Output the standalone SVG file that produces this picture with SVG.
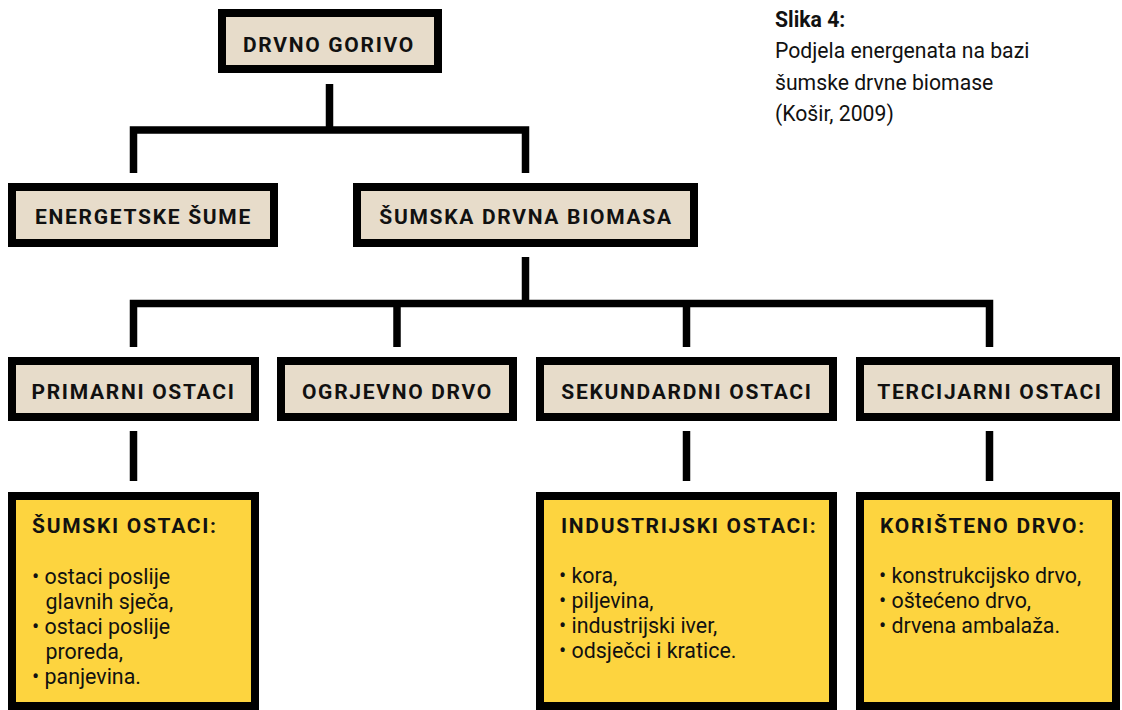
<svg xmlns="http://www.w3.org/2000/svg" width="1122" height="710" viewBox="0 0 1122 710">
<style>
.box{fill:#E7DCCA;stroke:#000;stroke-width:8}
.ybox{fill:#FDD43F;stroke:#000;stroke-width:8}
.lbl{font-family:Roboto,"Liberation Sans",sans-serif;font-weight:700;font-size:21px;letter-spacing:1.7px;fill:#111;text-anchor:middle}
.ttl{font-family:Roboto,"Liberation Sans",sans-serif;font-weight:700;font-size:21px;letter-spacing:1.7px;fill:#111}
.txt{font-family:Roboto,"Liberation Sans",sans-serif;font-size:21.4px;fill:#111}
.cap{font-family:Roboto,"Liberation Sans",sans-serif;font-size:21.2px;fill:#111}
.con{fill:none;stroke:#000;stroke-width:7.5;stroke-linejoin:miter}
</style>
<rect width="1122" height="710" fill="#fff"/>
<g id="connectors">
<path class="con" d="M329.5 84V130"/>
<path class="con" d="M133.5 173V130H525.5V173"/>
<path class="con" d="M525.5 257V303.5"/>
<path class="con" d="M133.5 347V303.5H989.5V347"/>
<path class="con" d="M397 303.5V347"/>
<path class="con" d="M686.5 303.5V347"/>
<path class="con" d="M133.5 431V481"/>
<path class="con" d="M686.5 431V481"/>
<path class="con" d="M989.5 431V481"/>
</g>
<g id="drvno-gorivo"><rect class="box" x="222" y="13" width="216" height="56"/><text class="lbl" x="329" y="51.5">DRVNO GORIVO</text></g>
<g id="energetske-sume"><rect class="box" x="12" y="187" width="262" height="56"/><text class="lbl" x="143.5" y="224">ENERGETSKE ŠUME</text></g>
<g id="sumska-drvna-biomasa"><rect class="box" x="357" y="187" width="337" height="56"/><text class="lbl" x="526" y="224">ŠUMSKA DRVNA BIOMASA</text></g>
<g id="primarni-ostaci"><rect class="box" x="12" y="361" width="243" height="56"/><text class="lbl" x="133.5" y="398.5">PRIMARNI OSTACI</text></g>
<g id="ogrjevno-drvo"><rect class="box" x="281" y="361" width="232" height="56"/><text class="lbl" x="397.5" y="398.5">OGRJEVNO DRVO</text></g>
<g id="sekundardni-ostaci"><rect class="box" x="540" y="361" width="293" height="56"/><text class="lbl" x="687" y="398.5">SEKUNDARDNI OSTACI</text></g>
<g id="tercijarni-ostaci"><rect class="box" x="860" y="361" width="256" height="56"/><text class="lbl" x="990" y="398.5">TERCIJARNI OSTACI</text></g>
<g id="sumski-ostaci"><rect class="ybox" x="12" y="496" width="243" height="210"/>
<text class="ttl" x="32" y="533">ŠUMSKI OSTACI:</text>
<text class="txt"><tspan x="32" y="584">• ostaci poslije</tspan><tspan x="45.5" y="609">glavnih sječa,</tspan><tspan x="32" y="634">• ostaci poslije</tspan><tspan x="45.5" y="659">proreda,</tspan><tspan x="32" y="684">• panjevina.</tspan></text></g>
<g id="industrijski-ostaci"><rect class="ybox" x="540" y="496" width="293" height="210"/>
<text class="ttl" x="561" y="533">INDUSTRIJSKI OSTACI:</text>
<text class="txt"><tspan x="559" y="583">• kora,</tspan><tspan x="559" y="608">• piljevina,</tspan><tspan x="559" y="633">• industrijski iver,</tspan><tspan x="559" y="658">• odsječci i kratice.</tspan></text></g>
<g id="koristeno-drvo"><rect class="ybox" x="860" y="496" width="256" height="210"/>
<text class="ttl" x="880" y="533">KORIŠTENO DRVO:</text>
<text class="txt"><tspan x="879" y="583">• konstrukcijsko drvo,</tspan><tspan x="879" y="608">• oštećeno drvo,</tspan><tspan x="879" y="633">• drvena ambalaža.</tspan></text></g>
<g id="caption">
<text class="cap" x="775" y="27" font-weight="700">Slika 4:</text>
<text class="cap" x="775" y="58">Podjela energenata na bazi</text>
<text class="cap" x="775" y="90">šumske drvne biomase</text>
<text class="cap" x="775" y="121">(Košir, 2009)</text>
</g>
</svg>
